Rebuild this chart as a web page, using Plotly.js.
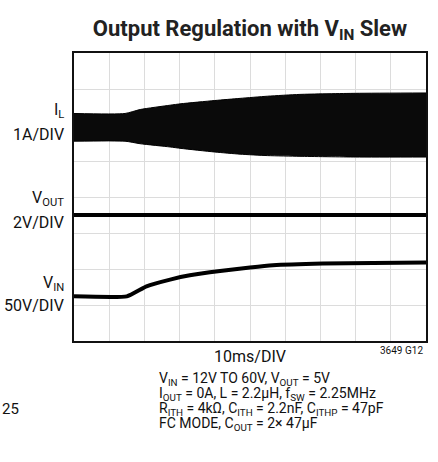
<!DOCTYPE html>
<html>
<head>
<meta charset="utf-8">
<script src="https://cdn.plot.ly/plotly-3.0.1.min.js"></script>
<style>
  html, body { margin: 0; padding: 0; background: #fff; }
  #plot { width: 438px; height: 462px; }
</style>
</head>
<body>
<div id="plot"></div>
<script>
// time base, ms (10ms/DIV, 10 divisions)
let tIL = [0, 14.5, 18.8, 27.3, 30.4, 40, 47.2, 55, 64.2, 80, 100];
// inductor current envelope, A (1A/DIV)
let ilTop = [0.32, 0.32, 0.43, 0.55, 0.59, 0.68, 0.74, 0.8, 0.85, 0.88, 0.89];
let ilBot = [-0.45, -0.45, -0.52, -0.61, -0.65, -0.75, -0.81, -0.85, -0.87, -0.89, -0.89];

// output voltage, V (2V/DIV)
let tOut = [0, 100];
let vOut = [5, 5];

// input voltage, V (50V/DIV)
let tIn = [0, 15, 20.6, 27.3, 32.9, 41.5, 50, 56.5, 70.7, 85, 100];
let vIn = [12, 12, 26, 35.3, 41.3, 47.2, 52, 55.1, 57.5, 58.4, 58.9];

// where each channel's zero sits on screen (divisions from bottom) and its scale
let ilZero = 6, ilScale = 1;
let outZero = 1, outScale = 2;
let inZero = 1, inScale = 50;

function toDiv(vals, zero, scale) {
    return vals.map(v => zero + v / scale);
}

let font = "Roboto, Liberation Sans, sans-serif";

let traces = [
    {x: tIL, y: toDiv(ilBot, ilZero, ilScale), mode: "lines",
     line: {color: "#000", width: 1, shape: "spline", smoothing: 0.6}, hoverinfo: "skip"},
    {x: tIL, y: toDiv(ilTop, ilZero, ilScale), mode: "lines", fill: "tonexty",
     fillcolor: "#0a0a0a", line: {color: "#000", width: 1, shape: "spline", smoothing: 0.6},
     hoverinfo: "skip"},
    {x: tOut, y: toDiv(vOut, outZero, outScale), mode: "lines",
     line: {color: "#000", width: 4}},
    {x: tIn, y: toDiv(vIn, inZero, inScale), mode: "lines",
     line: {color: "#000", width: 4, shape: "spline", smoothing: 0.4}}
];

// paper coords for the plot box (53..341 px tall, 74..426 px wide)
function py(p) { return (341 - p) / 288; }
function px(p) { return (p - 74) / 352; }

let sideLabel = (text, y) => ({
    text: text, xref: "paper", yref: "paper", x: px(66), y: py(y),
    xanchor: "right", yanchor: "middle", showarrow: false,
    font: {family: font, size: 16, color: "#111"}
});
let noteLine = (text, y) => ({
    text: text, xref: "paper", yref: "paper", x: px(157), y: py(y),
    xanchor: "left", yanchor: "middle", showarrow: false,
    font: {family: font, size: 14, color: "#111"}
});

let layout = {
    width: 438, height: 462,
    margin: {l: 74, r: 12, t: 53, b: 121},
    paper_bgcolor: "#fff", plot_bgcolor: "#fff",
    showlegend: false,
    title: {
        text: "<b>Output Regulation with V<sub>IN</sub> Slew</b>",
        font: {family: font, size: 22, color: "#222"},
        x: 0.5, xref: "paper", xanchor: "center",
        y: 1 - 28 / 462, yanchor: "middle"
    },
    xaxis: {
        range: [0, 100], dtick: 10, showticklabels: false, ticks: "",
        showgrid: true, gridcolor: "#dcdcdc", gridwidth: 1, zeroline: false,
        showline: true, linecolor: "#111", linewidth: 2, mirror: true
    },
    yaxis: {
        range: [0, 8], dtick: 1, showticklabels: false, ticks: "",
        showgrid: true, gridcolor: "#dcdcdc", gridwidth: 1, zeroline: false,
        showline: true, linecolor: "#111", linewidth: 2, mirror: true
    },
    annotations: [
        sideLabel("I<sub>L</sub>", 111),
        sideLabel("1A/DIV", 134),
        sideLabel("V<sub>OUT</sub>", 198),
        sideLabel("2V/DIV", 222),
        sideLabel("V<sub>IN</sub>", 283),
        sideLabel("50V/DIV", 305),
        {text: "10ms/DIV", xref: "paper", yref: "paper", x: px(250), y: py(356),
         xanchor: "center", yanchor: "middle", showarrow: false,
         font: {family: font, size: 16, color: "#111"}},
        {text: "3649 G12", xref: "paper", yref: "paper", x: px(425), y: py(350),
         xanchor: "right", yanchor: "middle", showarrow: false,
         font: {family: font, size: 10, color: "#111"}},
        noteLine("V<sub>IN</sub> = 12V TO 60V, V<sub>OUT</sub> = 5V", 379),
        noteLine("I<sub>OUT</sub> = 0A, L = 2.2µH, f<sub>SW</sub> = 2.25MHz", 394),
        noteLine("R<sub>ITH</sub> = 4kΩ, C<sub>ITH</sub> = 2.2nF, C<sub>ITHP</sub> = 47pF", 409),
        noteLine("FC MODE, C<sub>OUT</sub> = 2× 47µF", 424),
        {text: "25", xref: "paper", yref: "paper", x: px(0), y: py(409),
         xanchor: "left", yanchor: "middle", showarrow: false,
         font: {family: font, size: 15, color: "#111"}}
    ]
};

Plotly.newPlot("plot", traces, layout, {displayModeBar: false, staticPlot: true});
</script>
</body>
</html>
